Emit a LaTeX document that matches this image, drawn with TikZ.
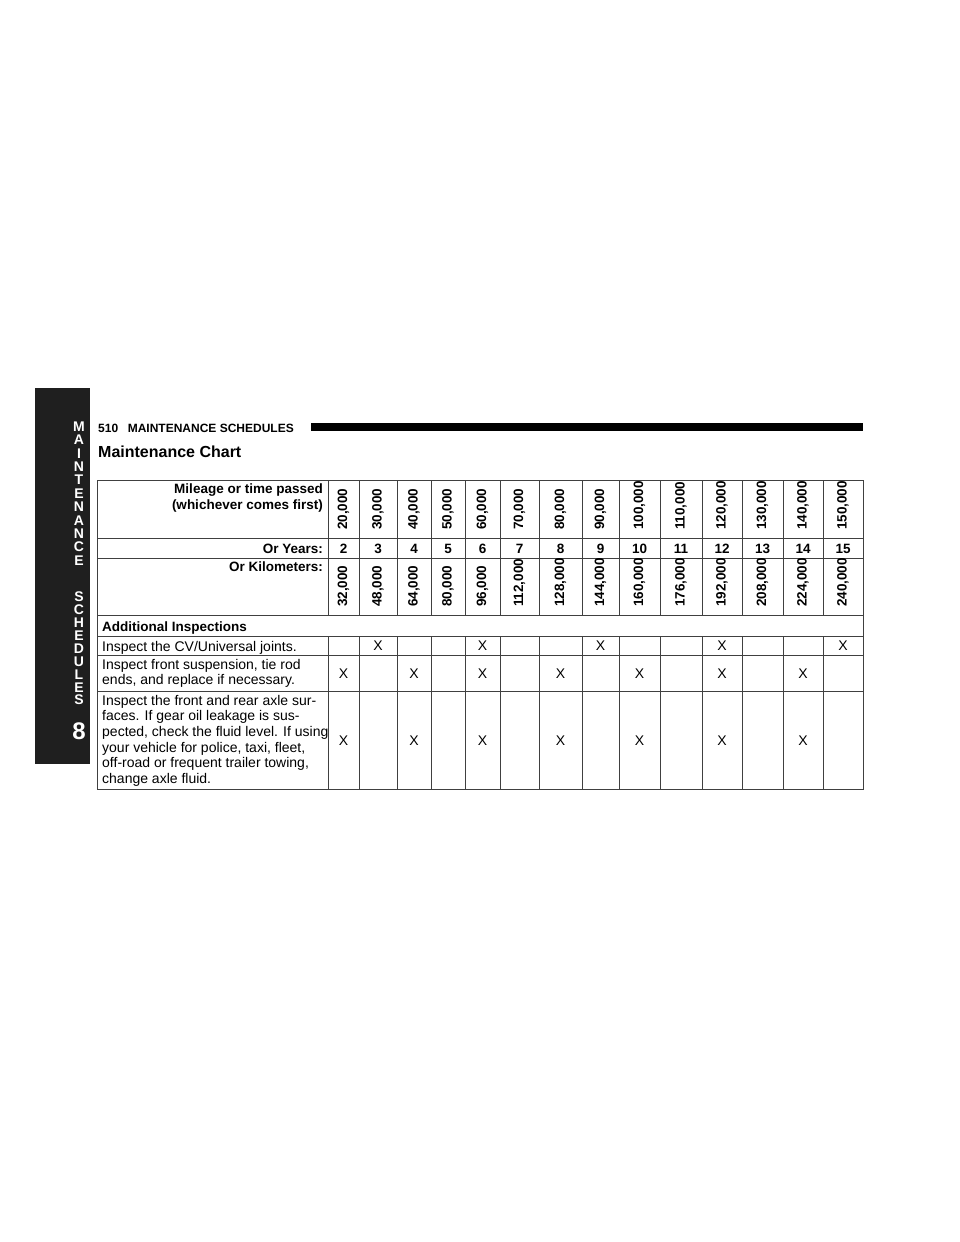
\documentclass[tikz,border=0pt]{standalone}
\usepackage{fontspec}
\setmainfont{Liberation Sans}
\begin{document}
\begin{tikzpicture}[x=1pt,y=-1pt,
  grid/.style={draw=black!75,line width=0.9pt},
  body/.style={font=\fontsize{14}{15.6}\selectfont,inner sep=0pt},
  hdr/.style={font=\fontsize{13.5}{16}\selectfont\bfseries,inner sep=0pt},
  rot/.style={font=\fontsize{13.5}{16}\selectfont\bfseries,inner sep=0pt,rotate=90,anchor=west},
  tab/.style={font=\fontsize{14}{14}\selectfont\bfseries,text=white,inner sep=0pt}]
\useasboundingbox (0,0) rectangle (960,1242);
% side tab
\fill[black!88] (35,388) rectangle (90,764);
\foreach \l [count=\i] in {M,A,I,N,T,E,N,A,N,C,E}
  \node[tab] (m\i) at (79,413+13.4*\i) {\l};
\foreach \l [count=\i] in {S,C,H,E,D,U,L,E,S}
  \node[tab] (s\i) at (79,584+12.9*\i) {\l};
\node[tab,font=\fontsize{24}{24}\selectfont\bfseries] (eight) at (79,731) {8};
% header
\node[anchor=base west,inner sep=0pt,font=\fontsize{12}{14}\selectfont\bfseries] (pg) at (98,432) {510\hspace{0.8em}MAINTENANCE SCHEDULES};
\fill (311,423) rectangle (863,431);
\node[anchor=base west,inner sep=0pt,font=\fontsize{16}{19}\selectfont\bfseries] (title) at (98,457) {Maintenance Chart};
% table grid
\draw[grid] (97,480) rectangle (863,789);
\foreach \y in {538,558,615,636,655,691} \draw[grid] (97,\y) -- (863,\y);
\foreach \x in {328,359,397,431,465,500,539,582,619,660,702,742,783,823}
  {\draw[grid] (\x,480) -- (\x,615); \draw[grid] (\x,636) -- (\x,789);}
% labels
\node[hdr,anchor=north east,align=right] (lab1) at (323,484) {Mileage or time passed\\(whichever comes first)};
\node[hdr,anchor=base east] (lab2) at (323,553) {Or Years:};
\node[hdr,anchor=north east] (lab3) at (323,562) {Or Kilometers:};
\node[hdr,anchor=base west] (lab4) at (102,631) {Additional Inspections};
\node[body,anchor=base west] (r1) at (102,651) {Inspect the CV/Universal joints.};
\node[body,anchor=north west,align=left] (r2) at (102,659) {Inspect front suspension, tie rod\\ends, and replace if necessary.};
\node[body,anchor=north west,align=left] (r3) at (102,695) {Inspect the front and rear axle sur-\\faces. If gear oil leakage is sus-\\pected, check the fluid level. If using\\your vehicle for police, taxi, fleet,\\off-road or frequent trailer towing,\\change axle fluid.};
% columns
\foreach \a/\b/\mi/\yr/\km [count=\i] in {
 328/359/{20,000}/2/{32,000}, 359/397/{30,000}/3/{48,000}, 397/431/{40,000}/4/{64,000},
 431/465/{50,000}/5/{80,000}, 465/500/{60,000}/6/{96,000}, 500/539/{70,000}/7/{112,000},
 539/582/{80,000}/8/{128,000}, 582/619/{90,000}/9/{144,000}, 619/660/{100,000}/10/{160,000},
 660/702/{110,000}/11/{176,000}, 702/742/{120,000}/12/{192,000}, 742/783/{130,000}/13/{208,000},
 783/823/{140,000}/14/{224,000}, 823/863/{150,000}/15/{240,000}}
{
  \node[rot] (mi\i) at ({(\a+\b)/2},530) {\mi};
  \node[hdr,anchor=base] (yr\i) at ({(\a+\b)/2},553) {\yr};
  \node[rot] (km\i) at ({(\a+\b)/2},607) {\km};
}
\foreach \a/\b [count=\i] in {359/397,465/500,582/619,702/742,823/863}
  \node[body] (xa\i) at ({(\a+\b)/2},646) {X};
\foreach \a/\b [count=\i] in {328/359,397/431,465/500,539/582,619/660,702/742,783/823}
  {\node[body] (xb\i) at ({(\a+\b)/2},674) {X};
   \node[body] (xc\i) at ({(\a+\b)/2},741) {X};}
\end{tikzpicture}
\end{document}
